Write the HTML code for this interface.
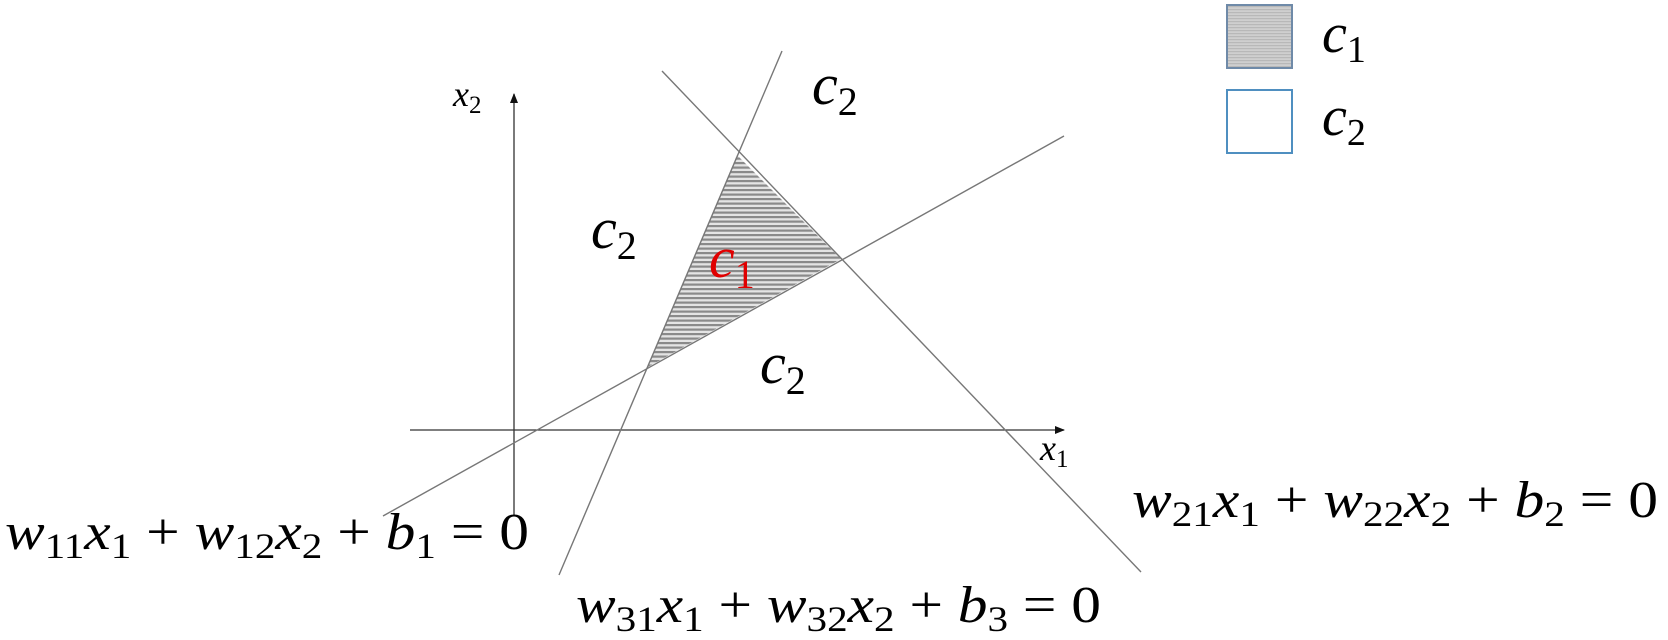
<!DOCTYPE html>
<html><head><meta charset="utf-8"><style>
html,body{margin:0;padding:0;background:#fff;}
svg{display:block;}
text{font-family:"Liberation Serif",serif;}
.i{font-style:italic;}
</style></head><body>
<svg width="1668" height="640" viewBox="0 0 1668 640" xmlns="http://www.w3.org/2000/svg">
<defs>
<pattern id="h" width="8" height="4.5" patternUnits="userSpaceOnUse">
<rect width="8" height="4.5" fill="#e4e4e4"/>
<rect y="0" width="8" height="2.2" fill="#8a8a8a"/>
</pattern>
<pattern id="h2" width="8" height="3" patternUnits="userSpaceOnUse">
<rect width="8" height="3" fill="#cfcfcf"/>
<rect y="0" width="8" height="1.2" fill="#b8b8b8"/>
</pattern>
<marker id="a" markerWidth="10" markerHeight="10" refX="9" refY="5" orient="auto" markerUnits="userSpaceOnUse">
<path d="M0,1 L10,5 L0,9 Z" fill="#111"/>
</marker>
</defs>
<polygon points="737,155 841,259 648,367" fill="url(#h)"/>
<line x1="410" y1="430" x2="1064" y2="430" stroke="#333" stroke-width="1.3" marker-end="url(#a)"/>
<line x1="514" y1="515" x2="514" y2="94" stroke="#333" stroke-width="1.3" marker-end="url(#a)"/>
<line x1="383" y1="516" x2="1064" y2="136" stroke="#777" stroke-width="1.4"/>
<line x1="662" y1="71" x2="1141" y2="572" stroke="#777" stroke-width="1.4"/>
<line x1="559" y1="575" x2="782" y2="51" stroke="#777" stroke-width="1.4"/>
<rect x="1227" y="5" width="65" height="63" fill="url(#h2)" stroke="#6f8aa8" stroke-width="2"/>
<rect x="1227" y="90" width="65" height="63" fill="#fff" stroke="#4f8fc0" stroke-width="2"/>
<text x="1322" y="52" font-size="56"><tspan class="i">c</tspan><tspan font-size="38" dy="10">1</tspan></text>
<text x="1322" y="135" font-size="56"><tspan class="i">c</tspan><tspan font-size="38" dy="10">2</tspan></text>
<text x="812" y="104" font-size="58"><tspan class="i">c</tspan><tspan font-size="40" dy="11">2</tspan></text>
<text x="591" y="248" font-size="58"><tspan class="i">c</tspan><tspan font-size="40" dy="11">2</tspan></text>
<text x="709" y="277" font-size="58" fill="#e00000"><tspan class="i">c</tspan><tspan font-size="40" dy="11">1</tspan></text>
<text x="760" y="383" font-size="58"><tspan class="i">c</tspan><tspan font-size="40" dy="11">2</tspan></text>
<text x="453" y="106" font-size="36"><tspan class="i">x</tspan><tspan font-size="25" dy="7">2</tspan></text>
<text x="1040" y="460" font-size="36"><tspan class="i">x</tspan><tspan font-size="25" dy="7">1</tspan></text>
<text x="5" y="549" font-size="52" textLength="524" lengthAdjust="spacingAndGlyphs"><tspan class="i">w</tspan><tspan font-size="36" dy="9">11</tspan><tspan class="i" dy="-9">x</tspan><tspan font-size="36" dy="9">1</tspan><tspan dy="-9"> + </tspan><tspan class="i">w</tspan><tspan font-size="36" dy="9">12</tspan><tspan class="i" dy="-9">x</tspan><tspan font-size="36" dy="9">2</tspan><tspan dy="-9"> + </tspan><tspan class="i">b</tspan><tspan font-size="36" dy="9">1</tspan><tspan dy="-9"> = 0</tspan></text>
<text x="1132" y="517" font-size="52" textLength="526" lengthAdjust="spacingAndGlyphs"><tspan class="i">w</tspan><tspan font-size="36" dy="9">21</tspan><tspan class="i" dy="-9">x</tspan><tspan font-size="36" dy="9">1</tspan><tspan dy="-9"> + </tspan><tspan class="i">w</tspan><tspan font-size="36" dy="9">22</tspan><tspan class="i" dy="-9">x</tspan><tspan font-size="36" dy="9">2</tspan><tspan dy="-9"> + </tspan><tspan class="i">b</tspan><tspan font-size="36" dy="9">2</tspan><tspan dy="-9"> = 0</tspan></text>
<text x="576" y="622" font-size="52" textLength="525" lengthAdjust="spacingAndGlyphs"><tspan class="i">w</tspan><tspan font-size="36" dy="9">31</tspan><tspan class="i" dy="-9">x</tspan><tspan font-size="36" dy="9">1</tspan><tspan dy="-9"> + </tspan><tspan class="i">w</tspan><tspan font-size="36" dy="9">32</tspan><tspan class="i" dy="-9">x</tspan><tspan font-size="36" dy="9">2</tspan><tspan dy="-9"> + </tspan><tspan class="i">b</tspan><tspan font-size="36" dy="9">3</tspan><tspan dy="-9"> = 0</tspan></text>
</svg>
</body></html>
